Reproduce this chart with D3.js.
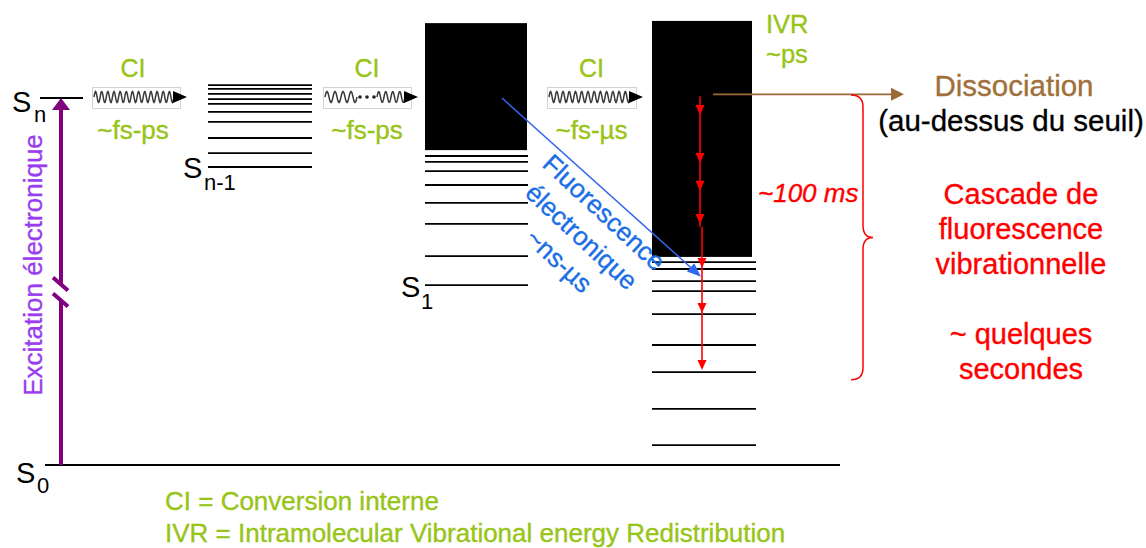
<!DOCTYPE html>
<html>
<head>
<meta charset="utf-8">
<title>Cascade de fluorescence vibrationnelle</title>
<style>
  body { margin: 0; background: #fff; }
  svg { display: block; font-family: "Liberation Sans", Arial, sans-serif; }
  text { stroke-width: 0.35px; }
  .level { stroke: #000; stroke-width: 1.8; }
  .block { fill: #000; }
  .state { fill: #000; }
  .green { fill: #97c416; stroke: #97c416; }
  .red { fill: #ff0000; stroke: #ff0000; }
  .wave { fill: none; stroke: #3a3a3a; stroke-width: 1.5; }
  .wavebox { fill: none; stroke: #d4d4d4; stroke-width: 1; }
</style>
</head>
<body>
<div id="graph"></div>
<script src="https://cdnjs.cloudflare.com/ajax/libs/d3/7.8.5/d3.min.js"></script>
<script>
// energies, S0 = 0 and Sn = 100 (arbitrary units)
var levelSn = 100;
var levelsSn1 = [103.5, 102.5, 101.1, 99.7, 98.4, 96.2, 93.5, 89.1, 85.0, 81.2];
var levelsS1 = [84.2, 82.6, 80.1, 76.3, 71.4, 65.7, 56.9, 49.0];
var levelsT = [55.3, 53.4, 50.1, 47.4, 41.1, 32.7, 25.3, 15.3, 5.4];
var blockS1 = [85.8, 120.4];     // dense region of S1
var blockT = [56.7, 121.0];      // dense region of hot S0
var cascadeStops = [95.4, 82.3, 74.7, 65.7, 53.7, 41.4, 25.9];
var cascadeRange = [100.5, 64.9, 25.9];
var fluoRange = [100, 51.3];
var dissociationLevel = 101;
var braceRange = [100.8, 23.2];
var breakLevel = 47;

var ciNames = ["CI", "CI", "CI"];
var ciTimes = ["~fs-ps", "~fs-ps", "~fs-µs"];
var fluoText = ["Fluorescence", "électronique", "~ns-µs"];
var cascadeText = ["Cascade de", "fluorescence", "vibrationnelle", "", "~ quelques", "secondes"];
var notes = ["CI = Conversion interne", "IVR = Intramolecular Vibrational energy Redistribution"];

var width = 1146, height = 548;

var svg = d3.select("#graph").append("svg")
  .attr("width", width)
  .attr("height", height);

var y = d3.scaleLinear().domain([0, 100]).range([465, 98]);
var x = d3.scaleLinear().domain([0, width]).range([0, width]);

// column layout (pixels)
var cols = {
  Sn: [40, 83],
  Sn1: [208, 312],
  S1: [425, 528],
  T: [652, 756]
};
var ciBoxes = [[92, 180], [323, 411], [547, 636]];
var ciTips = [187, 418, 643];

function tri(g, tipX, tipY, angle, len, half, color) {
  // arrowhead pointing along angle (radians) with tip at (tipX, tipY)
  var c = Math.cos(angle), s = Math.sin(angle);
  var bx = tipX - c * len, by = tipY - s * len;
  var pts = [[tipX, tipY], [bx - s * half, by + c * half], [bx + s * half, by - c * half]];
  g.append("path")
    .attr("d", "M" + pts.join("L") + "Z")
    .attr("fill", color);
}

function wavePath(x0, x1, yc, periods, amp) {
  var n = Math.round((x1 - x0) * 2);
  var pts = d3.range(n + 1).map(function(i) {
    var t = i / n;
    return [x0 + t * (x1 - x0), yc - amp * Math.sin(t * periods * 2 * Math.PI)];
  });
  return d3.line()(pts);
}

// ground state
svg.append("line")
  .attr("class", "level")
  .attr("stroke-width", 1.4)
  .attr("x1", x(45)).attr("x2", x(840))
  .attr("y1", y(0)).attr("y2", y(0));

// Sn
svg.append("line")
  .attr("class", "level")
  .attr("x1", x(cols.Sn[0])).attr("x2", x(cols.Sn[1]))
  .attr("y1", y(levelSn)).attr("y2", y(levelSn));

function drawLevels(data, col) {
  svg.append("g").selectAll("line")
    .data(data)
    .enter()
    .append("line")
    .attr("class", "level")
    .attr("x1", x(col[0]))
    .attr("x2", x(col[1]))
    .attr("y1", function(d) { return y(d); })
    .attr("y2", function(d) { return y(d); });
}
drawLevels(levelsSn1, cols.Sn1);
drawLevels(levelsS1, cols.S1);
drawLevels(levelsT, cols.T);

svg.append("rect")
  .attr("class", "block")
  .attr("x", x(cols.S1[0]))
  .attr("width", x(527) - x(cols.S1[0]))
  .attr("y", y(blockS1[1]))
  .attr("height", y(blockS1[0]) - y(blockS1[1]));

svg.append("rect")
  .attr("class", "block")
  .attr("x", x(cols.T[0]))
  .attr("width", x(752) - x(cols.T[0]))
  .attr("y", y(blockT[1]))
  .attr("height", y(blockT[0]) - y(blockT[1]));

// state labels
function stateLabel(xs, ys, sub, xsub, ysub) {
  var t = svg.append("text").attr("class", "state");
  t.append("tspan").attr("x", xs).attr("y", ys).style("font-size", "29px").text("S");
  t.append("tspan").attr("x", xsub).attr("y", ysub).style("font-size", "22px").text(sub);
}
stateLabel(12, 112, "n", 34, 122);
stateLabel(183, 178, "n-1", 204, 190);
stateLabel(401, 297, "1", 421, 309);
stateLabel(16, 483, "0", 37, 493);

// electronic excitation (purple)
var purple = svg.append("g");
var ax = x(61);
purple.append("line")
  .attr("x1", ax).attr("x2", ax)
  .attr("y1", y(0)).attr("y2", y(breakLevel) + 8)
  .attr("stroke", "#800080").attr("stroke-width", 4);
purple.append("line")
  .attr("x1", ax).attr("x2", ax)
  .attr("y1", y(breakLevel) - 8).attr("y2", y(levelSn) + 11)
  .attr("stroke", "#800080").attr("stroke-width", 4);
[-8, 8].forEach(function(off) {
  purple.append("line")
    .attr("x1", ax - 8).attr("x2", ax + 7)
    .attr("y1", y(breakLevel) + off - 7).attr("y2", y(breakLevel) + off + 6)
    .attr("stroke", "#800080").attr("stroke-width", 4);
});
tri(purple, ax, y(levelSn), -Math.PI / 2, 12, 9, "#800080");

svg.append("text")
  .attr("transform", "translate(42,265) rotate(-90)")
  .attr("text-anchor", "middle")
  .attr("fill", "#9a3cf0")
  .attr("stroke", "#9a3cf0")
  .style("font-size", "26px")
  .text("Excitation électronique");

// internal conversion arrows
var waveY = 97;
ciBoxes.forEach(function(b, i) {
  var g = svg.append("g");
  g.append("rect")
    .attr("class", "wavebox")
    .attr("x", x(b[0]) + 0.5).attr("y", waveY - 10 + 0.5)
    .attr("width", x(b[1]) - x(b[0])).attr("height", 21);
  if (i === 1) {
    g.append("path").attr("class", "wave").attr("d", wavePath(b[0] + 2, b[0] + 34, waveY, 4, 5.5));
    [0, 7, 14].forEach(function(dx) {
      g.append("circle").attr("cx", b[0] + 37 + dx).attr("cy", waveY).attr("r", 1.8).attr("fill", "#222");
    });
    g.append("path").attr("class", "wave").attr("d", wavePath(b[0] + 54, ciTips[i] - 13, waveY, 4, 5.5));
  } else {
    g.append("path").attr("class", "wave").attr("d", wavePath(b[0] + 2, ciTips[i] - 13, waveY, 13, 5.5));
  }
  tri(g, x(ciTips[i]), waveY, 0, 14, 6, "#000");

  var cx = (b[0] + b[1]) / 2 + (i === 0 ? -3 : 0);
  svg.append("text")
    .attr("class", "green")
    .attr("x", cx).attr("y", 77)
    .attr("text-anchor", "middle")
    .style("font-size", "25px")
    .text(ciNames[i]);
  svg.append("text")
    .attr("class", "green")
    .attr("x", cx).attr("y", 139)
    .attr("text-anchor", "middle")
    .style("font-size", "26px")
    .text(ciTimes[i]);
});

// IVR label
svg.append("text").attr("class", "green")
  .attr("x", 766).attr("y", 33).style("font-size", "25.5px").text("IVR");
svg.append("text").attr("class", "green")
  .attr("x", 766).attr("y", 63).style("font-size", "25.5px").text("~ps");

// electronic fluorescence (blue)
var blue = svg.append("g");
var fx0 = x(502), fy0 = y(fluoRange[0]), fx1 = x(701), fy1 = y(fluoRange[1]);
var fang = Math.atan2(fy1 - fy0, fx1 - fx0);
blue.append("line")
  .attr("x1", fx0).attr("y1", fy0)
  .attr("x2", fx1 - Math.cos(fang) * 10).attr("y2", fy1 - Math.sin(fang) * 10)
  .attr("stroke", "#3366ee").attr("stroke-width", 1.5);
tri(blue, fx1, fy1, fang, 14, 5.5, "#3366ee");

var ft = svg.append("text")
  .attr("transform", "translate(598,219) rotate(43)")
  .attr("text-anchor", "middle")
  .attr("fill", "#1a6ee6")
  .attr("stroke", "#1a6ee6")
  .style("font-size", "26px");
ft.selectAll("tspan")
  .data(fluoText)
  .enter()
  .append("tspan")
  .attr("x", 0)
  .attr("dy", function(d, i) { return i === 0 ? 0 : 33; })
  .text(function(d) { return d; });

// vibrational cascade (red)
var red = svg.append("g");
red.append("line")
  .attr("x1", x(700)).attr("x2", x(700))
  .attr("y1", y(cascadeRange[0])).attr("y2", y(cascadeRange[1]))
  .attr("stroke", "#ff0000").attr("stroke-width", 1.6);
red.append("line")
  .attr("x1", x(702)).attr("x2", x(702))
  .attr("y1", y(cascadeRange[1])).attr("y2", y(cascadeRange[2]) - 4)
  .attr("stroke", "#ff0000").attr("stroke-width", 1.6);
cascadeStops.forEach(function(e) {
  var cx = e > cascadeRange[1] ? 700 : 702;
  tri(red, x(cx), y(e), Math.PI / 2, 10, 4.5, "#ff0000");
});

svg.append("text")
  .attr("class", "red")
  .attr("x", 758).attr("y", 202)
  .style("font-size", "26px")
  .style("font-style", "italic")
  .text("~100 ms");

// dissociation (brown)
var brown = svg.append("g");
brown.append("line")
  .attr("x1", x(713)).attr("x2", x(893))
  .attr("y1", y(dissociationLevel)).attr("y2", y(dissociationLevel))
  .attr("stroke", "#9a6a36").attr("stroke-width", 1.8);
tri(brown, x(904), y(dissociationLevel), 0, 13, 6.5, "#9a6a36");

svg.append("text")
  .attr("x", 1014).attr("y", 96)
  .attr("text-anchor", "middle")
  .attr("fill", "#a0703c")
  .attr("stroke", "#a0703c")
  .style("font-size", "29.5px")
  .text("Dissociation");
svg.append("text")
  .attr("x", 1011).attr("y", 131)
  .attr("text-anchor", "middle")
  .attr("fill", "#000")
  .attr("stroke", "#000")
  .style("font-size", "29.5px")
  .text("(au-dessus du seuil)");

// brace
var bTop = y(braceRange[0]), bBot = y(braceRange[1]), bMid = (bTop + bBot) / 2;
svg.append("path")
  .attr("d", "M851," + bTop + " Q863," + bTop + " 863," + (bTop + 12) +
    " L863," + (bMid - 12) + " Q863," + bMid + " 873," + bMid +
    " Q863," + bMid + " 863," + (bMid + 12) +
    " L863," + (bBot - 12) + " Q863," + bBot + " 851," + bBot)
  .attr("fill", "none")
  .attr("stroke", "#ff0000")
  .attr("stroke-width", 1.5);

var ct = svg.append("text")
  .attr("class", "red")
  .attr("text-anchor", "middle")
  .style("font-size", "29px");
ct.selectAll("tspan")
  .data(cascadeText)
  .enter()
  .append("tspan")
  .attr("x", 1021)
  .attr("y", function(d, i) { return 204 + i * 35; })
  .text(function(d) { return d; });

// footnotes
svg.append("g").selectAll("text")
  .data(notes)
  .enter()
  .append("text")
  .attr("class", "green")
  .attr("x", 165)
  .attr("y", function(d, i) { return 510 + i * 32; })
  .style("font-size", "26px")
  .text(function(d) { return d; });
</script>
</body>
</html>
